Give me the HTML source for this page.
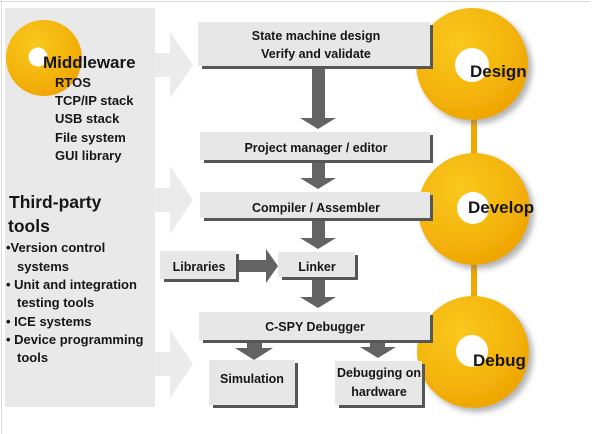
<!DOCTYPE html>
<html>
<head>
<meta charset="utf-8">
<style>
  html,body{margin:0;padding:0;background:#fff;}
  svg{display:block;}
  text{font-family:"Liberation Sans",Arial,sans-serif;fill:#161616;}
</style>
</head>
<body>
<svg width="600" height="434" viewBox="0 0 600 434" xmlns="http://www.w3.org/2000/svg">
  <defs>
    <radialGradient id="og" cx="0.38" cy="0.32" r="0.75">
      <stop offset="0" stop-color="#f9c81e"/>
      <stop offset="0.6" stop-color="#f4b50c"/>
      <stop offset="1" stop-color="#eea200"/>
    </radialGradient>
    <filter id="sh" x="-30%" y="-30%" width="160%" height="160%">
      <feDropShadow dx="4" dy="4" stdDeviation="3" flood-color="#777" flood-opacity="0.55"/>
    </filter>
  </defs>

  <!-- frame -->
  <line x1="0" y1="1.5" x2="590" y2="1.5" stroke="#dadada" stroke-width="1"/>
  <line x1="1.5" y1="0" x2="1.5" y2="434" stroke="#dadada" stroke-width="1"/>

  <!-- left panel -->
  <rect x="5" y="8" width="150" height="399" fill="#e9e9e9"/>

  <!-- big light arrows -->
  <g fill="#ebebeb">
    <rect x="155" y="53" width="16" height="24"/>
    <polygon points="170,32 193,65 170,98"/>
    <rect x="155" y="188" width="16" height="24"/>
    <polygon points="170,166 193,200 170,234"/>
    <rect x="155" y="352" width="16" height="24"/>
    <polygon points="170,330 193,364 170,398"/>
  </g>

  <!-- middleware circle -->
  <circle cx="44" cy="58" r="38" fill="url(#og)"/>
  <circle cx="38" cy="57" r="9.5" fill="#fff"/>
  <text x="43" y="68" font-size="17" font-weight="bold">Middleware</text>
  <g font-size="13" font-weight="bold">
    <text x="55" y="87">RTOS</text>
    <text x="55" y="105">TCP/IP stack</text>
    <text x="55" y="123">USB stack</text>
    <text x="55" y="142">File system</text>
    <text x="55" y="160">GUI library</text>
  </g>
  <text x="9" y="208" font-size="17.5" font-weight="bold">Third-party</text>
  <text x="8" y="232" font-size="17.5" font-weight="bold">tools</text>
  <g font-size="13" font-weight="bold">
    <text x="6" y="252">•Version control</text>
    <text x="17" y="271">systems</text>
    <text x="6" y="289">• Unit and integration</text>
    <text x="17" y="307">testing tools</text>
    <text x="6" y="326">• ICE systems</text>
    <text x="6" y="344">• Device programming</text>
    <text x="17" y="362">tools</text>
  </g>

  <!-- orange circles -->
  <rect x="471" y="110" width="6" height="50" fill="#f0a800"/>
  <rect x="471" y="255" width="6" height="50" fill="#f0a800"/>
  <g filter="url(#sh)">
    <circle cx="472" cy="64" r="56" fill="url(#og)"/>
    <circle cx="474" cy="209" r="56" fill="url(#og)"/>
    <circle cx="473" cy="352" r="56" fill="url(#og)"/>
  </g>
  <circle cx="472" cy="65" r="17" fill="#fff"/>
  <circle cx="473" cy="208" r="16" fill="#fff"/>
  <circle cx="472" cy="351" r="16" fill="#fff"/>
  <text x="470" y="77" font-size="17" font-weight="bold">Design</text>
  <text x="468" y="213" font-size="17" font-weight="bold">Develop</text>
  <text x="473" y="366" font-size="17" font-weight="bold">Debug</text>

  <!-- boxes: dark shadow then light face -->
  <g fill="#565656">
    <rect x="202" y="25" width="231" height="44"/>
    <rect x="204" y="135" width="229" height="28"/>
    <rect x="204" y="195" width="229" height="26"/>
    <rect x="164" y="254" width="75" height="28"/>
    <rect x="282" y="255" width="76" height="25"/>
    <rect x="203" y="315" width="230" height="28"/>
    <rect x="213" y="363" width="85" height="45"/>
    <rect x="339" y="364" width="86" height="44"/>
  </g>
  <g fill="#e7e7e7">
    <rect x="198" y="22" width="232" height="44"/>
    <rect x="200" y="132" width="230" height="28"/>
    <rect x="200" y="192" width="230" height="26"/>
    <rect x="160" y="251" width="76" height="28"/>
    <rect x="278" y="252" width="77" height="25"/>
    <rect x="199" y="312" width="231" height="28"/>
    <rect x="209" y="360" width="86" height="45"/>
    <rect x="335" y="361" width="87" height="44"/>
  </g>

  <!-- dark arrows -->
  <g fill="#636363">
    <rect x="312" y="69" width="13" height="50"/>
    <polygon points="300,118 336,118 318,129"/>
    <rect x="312" y="163" width="13" height="16"/>
    <polygon points="300,178 336,178 318,189"/>
    <rect x="312" y="221" width="13" height="18"/>
    <polygon points="300,238 336,238 318,249"/>
    <rect x="312" y="280" width="13" height="18"/>
    <polygon points="300,297 336,297 318,308"/>
    <rect x="239" y="260" width="28" height="12"/>
    <polygon points="266,249 266,283 278,266"/>
    <rect x="247" y="343" width="15" height="6"/>
    <polygon points="235,348 273,348 254,360"/>
    <rect x="370" y="343" width="15" height="5"/>
    <polygon points="360,347 396,347 378,358"/>
  </g>

  <!-- box labels -->
  <g font-size="12.5" font-weight="bold" text-anchor="middle">
    <text x="316" y="40">State machine design</text>
    <text x="316" y="58">Verify and validate</text>
    <text x="316" y="152">Project manager / editor</text>
    <text x="316" y="212">Compiler / Assembler</text>
    <text x="199" y="271">Libraries</text>
    <text x="317" y="271">Linker</text>
    <text x="315" y="331">C-SPY Debugger</text>
    <text x="252" y="383">Simulation</text>
    <text x="379" y="377">Debugging on</text>
    <text x="379" y="396">hardware</text>
  </g>
</svg>
</body>
</html>
